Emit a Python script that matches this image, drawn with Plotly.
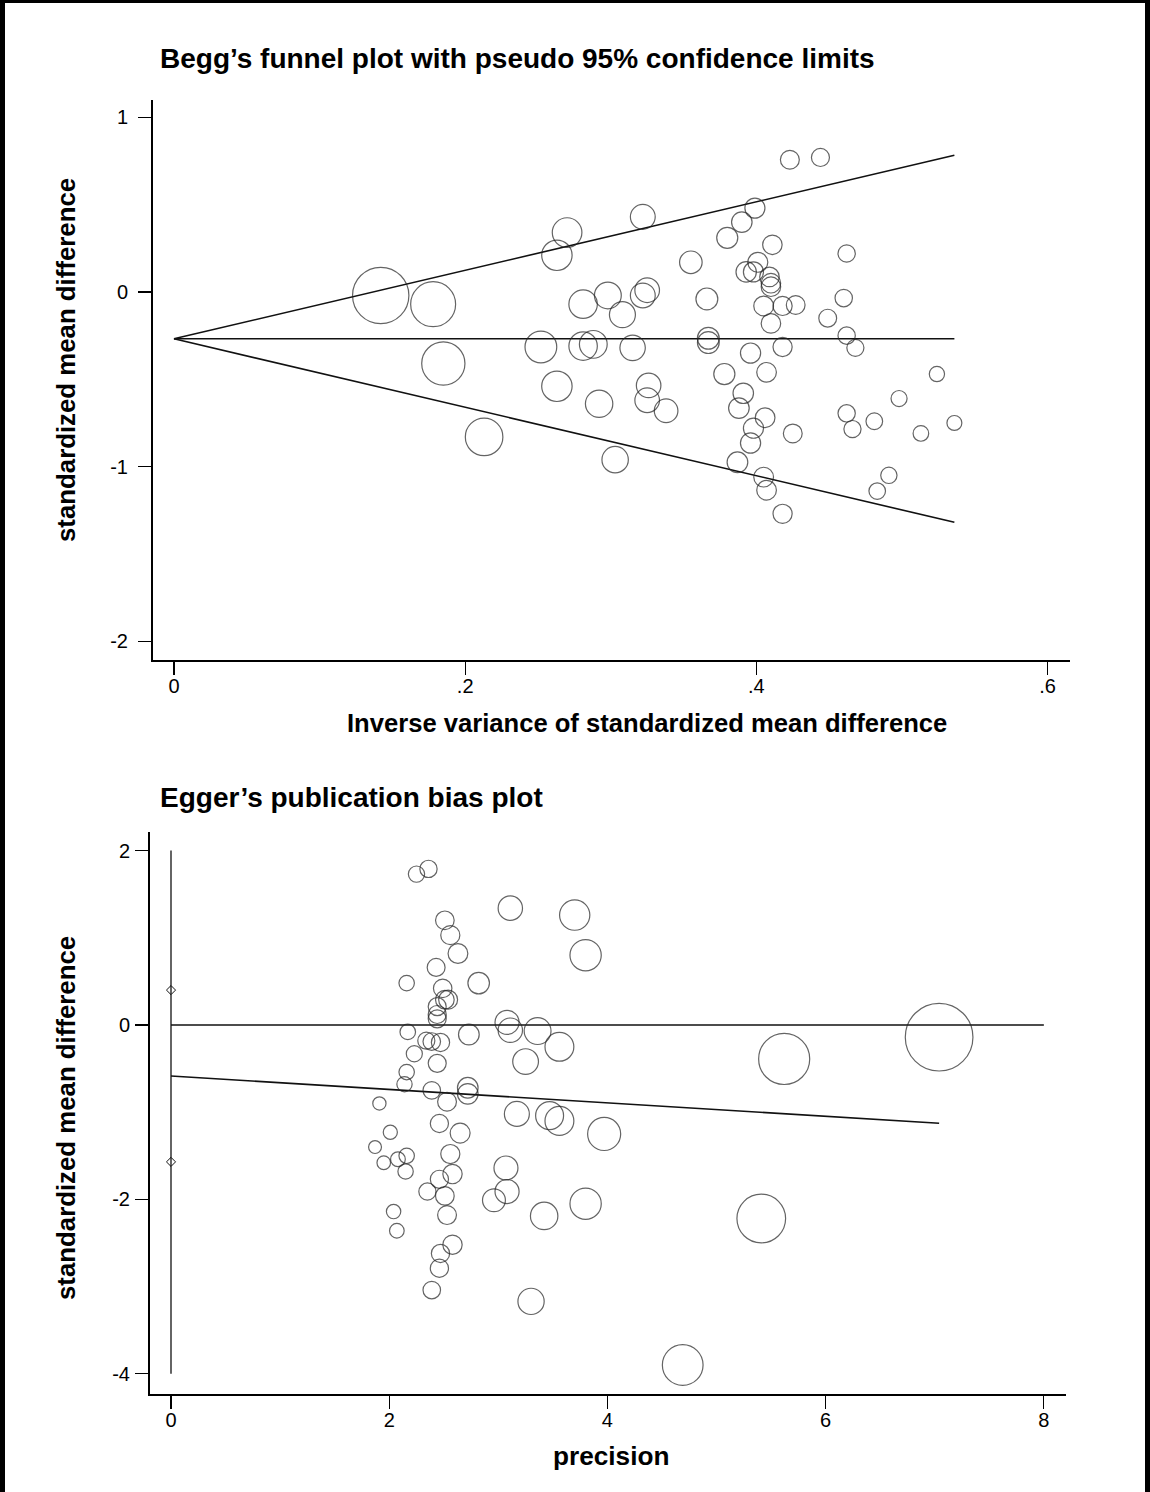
import plotly.graph_objects as go

# ---------------- Data: Begg's funnel plot ----------------
se = [0.142, 0.178, 0.185, 0.213, 0.252, 0.263, 0.263, 0.270, 0.281, 0.281,
      0.288, 0.292, 0.298, 0.303, 0.308, 0.315, 0.322, 0.322, 0.325, 0.325,
      0.326, 0.338, 0.355, 0.366, 0.367, 0.367, 0.378, 0.380, 0.387, 0.388,
      0.390, 0.391, 0.393, 0.396, 0.396, 0.398, 0.398, 0.399, 0.401, 0.405,
      0.405, 0.406, 0.407, 0.407, 0.409, 0.410, 0.410, 0.410, 0.411, 0.418,
      0.418, 0.418, 0.423, 0.425, 0.427, 0.444, 0.449, 0.460, 0.462, 0.462,
      0.462, 0.466, 0.468, 0.481, 0.483, 0.491, 0.498, 0.513, 0.524, 0.536]
smd = [-0.02, -0.07, -0.41, -0.83, -0.315, 0.21, -0.54, 0.34, -0.07, -0.31,
       -0.30, -0.64, -0.02, -0.96, -0.13, -0.32, 0.43, -0.02, 0.01, -0.62,
       -0.535, -0.68, 0.17, -0.04, -0.265, -0.29, -0.47, 0.31, -0.975, -0.665,
       0.40, -0.58, 0.115, -0.35, -0.865, 0.115, -0.78, 0.48, 0.17, -0.08,
       -1.06, -0.72, -0.46, -1.135, 0.086, 0.05, 0.03, -0.18, 0.27, -0.08,
       -0.315, -1.27, 0.757, -0.81, -0.075, 0.77, -0.15, -0.035, 0.22, -0.25,
       -0.695, -0.785, -0.32, -0.74, -1.14, -1.05, -0.61, -0.81, -0.47, -0.75]
pooled_smd = -0.268
z95 = 1.96
begg_xticks = [0, 0.2, 0.4, 0.6]
begg_xticktext = ["0", ".2", ".4", ".6"]
begg_yticks = [1, 0, -1, -2]
begg_yticktext = ["1", "0", "-1", "-2"]

# ---------------- Data: Egger's plot ----------------
precision = [7.04, 5.62, 5.41, 4.69, 3.97, 3.80, 3.80, 3.70, 3.56, 3.56,
             3.47, 3.42, 3.36, 3.30, 3.25, 3.17, 3.11, 3.11, 3.08, 3.08,
             3.07, 2.96, 2.82, 2.73, 2.72, 2.72, 2.65, 2.63, 2.58, 2.58,
             2.56, 2.56, 2.54, 2.53, 2.53, 2.51, 2.51, 2.51, 2.49, 2.47,
             2.47, 2.46, 2.46, 2.46, 2.44, 2.44, 2.44, 2.44, 2.43, 2.39,
             2.39, 2.39, 2.36, 2.35, 2.34, 2.25, 2.23, 2.17, 2.16, 2.16,
             2.16, 2.15, 2.14, 2.08, 2.07, 2.04, 2.01, 1.95, 1.91, 1.87]
snd = [-0.14, -0.39, -2.22, -3.90, -1.25, 0.80, -2.05, 1.26, -0.25, -1.10,
       -1.04, -2.19, -0.07, -3.17, -0.42, -1.02, 1.34, -0.06, 0.03, -1.91,
       -1.64, -2.01, 0.48, -0.11, -0.72, -0.79, -1.24, 0.82, -2.52, -1.71,
       1.03, -1.48, 0.29, -0.88, -2.18, 0.29, -1.96, 1.20, 0.42, -0.20,
       -2.62, -1.77, -1.13, -2.79, 0.21, 0.12, 0.07, -0.44, 0.66, -0.19,
       -0.75, -3.04, 1.79, -1.91, -0.18, 1.73, -0.33, -0.08, 0.48, -0.54,
       -1.50, -1.68, -0.68, -1.54, -2.36, -2.14, -1.23, -1.58, -0.90, -1.40]
egger_intercept = -0.585
egger_slope = -0.077
egger_intercept_ci = [0.40, -1.57]
egger_xticks = [0, 2, 4, 6, 8]
egger_yticks = [2, 0, -2, -4]
egger_yticktext = ["2", "0", "-2", "-4"]

# ---------------- Figure ----------------
W, H = 1150, 1492
def fx(p):
    return p / W
def fy(p):
    return 1 - p / H

INK = "#111111"
FONT = "Liberation Sans, Arial, Helvetica, sans-serif"

fig = go.Figure()

# --- Begg funnel ---
se_max = max(se)
for y_end in (pooled_smd + z95 * se_max, pooled_smd - z95 * se_max, pooled_smd):
    fig.add_trace(go.Scatter(x=[0, se_max], y=[pooled_smd, y_end],
                             mode="lines", line=dict(color=INK, width=1.6),
                             xaxis="x", yaxis="y", hoverinfo="skip"))
fig.add_trace(go.Scatter(x=se, y=smd, mode="markers",
                         marker=dict(symbol="circle-open", color="#222222",
                                     size=[8.0 / s for s in se],
                                     line=dict(width=1.2)),
                         xaxis="x", yaxis="y"))

# --- Egger ---
pmax = max(precision)
fig.add_trace(go.Scatter(x=[0, 0], y=[max(egger_yticks), min(egger_yticks)],
                         mode="lines", line=dict(color=INK, width=1.3),
                         xaxis="x2", yaxis="y2", hoverinfo="skip"))
fig.add_trace(go.Scatter(x=[0, max(egger_xticks)], y=[0, 0],
                         mode="lines", line=dict(color=INK, width=1.6),
                         xaxis="x2", yaxis="y2", hoverinfo="skip"))
fig.add_trace(go.Scatter(x=[0, pmax],
                         y=[egger_intercept, egger_intercept + egger_slope * pmax],
                         mode="lines", line=dict(color=INK, width=1.6),
                         xaxis="x2", yaxis="y2", hoverinfo="skip"))
fig.add_trace(go.Scatter(x=[0, 0], y=egger_intercept_ci, mode="markers",
                         marker=dict(symbol="diamond-open", color=INK, size=7,
                                     line=dict(width=1)),
                         xaxis="x2", yaxis="y2"))
fig.add_trace(go.Scatter(x=precision, y=snd, mode="markers",
                         marker=dict(symbol="circle-open", color="#222222",
                                     size=[5.9 * p ** 1.25 for p in precision],
                                     line=dict(width=1.2)),
                         xaxis="x2", yaxis="y2"))

axis_common = dict(showgrid=False, zeroline=False, showline=True, linecolor="black",
                   linewidth=2, ticks="outside", ticklen=13, tickwidth=1.3,
                   tickcolor="black", tickfont=dict(family=FONT, size=20, color="black"),
                   mirror=False, fixedrange=True)

fig.update_layout(
    width=W, height=H, autosize=False,
    margin=dict(l=0, r=0, t=0, b=0),
    paper_bgcolor="white", plot_bgcolor="white",
    showlegend=False,
    xaxis=dict(domain=[fx(153), fx(1070)], range=[-0.0144, 0.6154], anchor="y",
               tickvals=begg_xticks, ticktext=begg_xticktext,
               ticklabelstandoff=-6, **axis_common),
    yaxis=dict(domain=[fy(660), fy(100)], range=[-2.107, 1.099], anchor="x",
               tickvals=begg_yticks, ticktext=begg_yticktext,
               ticklabelstandoff=6, **axis_common),
    xaxis2=dict(domain=[fx(150), fx(1066)], range=[-0.1925, 8.203], anchor="y2",
                tickvals=egger_xticks, ticklabelstandoff=-6, **axis_common),
    yaxis2=dict(domain=[fy(1394), fy(832)], range=[-4.232, 2.213], anchor="x2",
                tickvals=egger_yticks, ticktext=egger_yticktext,
                ticklabelstandoff=1, **axis_common),
)

def ann(text, x, y, size, xanchor="center", angle=0):
    fig.add_annotation(text=text, x=fx(x), y=fy(y), xref="paper", yref="paper",
                       xanchor=xanchor, yanchor="middle", showarrow=False,
                       textangle=angle,
                       font=dict(family=FONT, size=size, color="black", weight="bold"))

ann("Begg’s funnel plot with pseudo 95% confidence limits", 158, 58, 28, xanchor="left")
ann("Inverse variance of standardized mean difference", 647, 723, 25.6)
ann("standardized mean difference", 66, 360, 25.8, angle=-90)
ann("Egger’s publication bias plot", 158, 797, 28, xanchor="left")
ann("precision", 611, 1456, 26.2)
ann("standardized mean difference", 66, 1118, 25.8, angle=-90)

# outer frame of the exported graph
for x0, y0, x1, y1 in [(0, 0, 5, H), (0, 0, W, 3), (W - 5, 0, W, H)]:
    fig.add_shape(type="rect", xref="paper", yref="paper",
                  x0=fx(x0), x1=fx(x1), y0=fy(y1), y1=fy(y0),
                  fillcolor="black", line=dict(width=0), layer="above")

fig.write_html("out.html", config={"displayModeBar": False, "staticPlot": True},
               post_script="document.body.style.margin='0px';document.body.style.overflow='hidden';")
